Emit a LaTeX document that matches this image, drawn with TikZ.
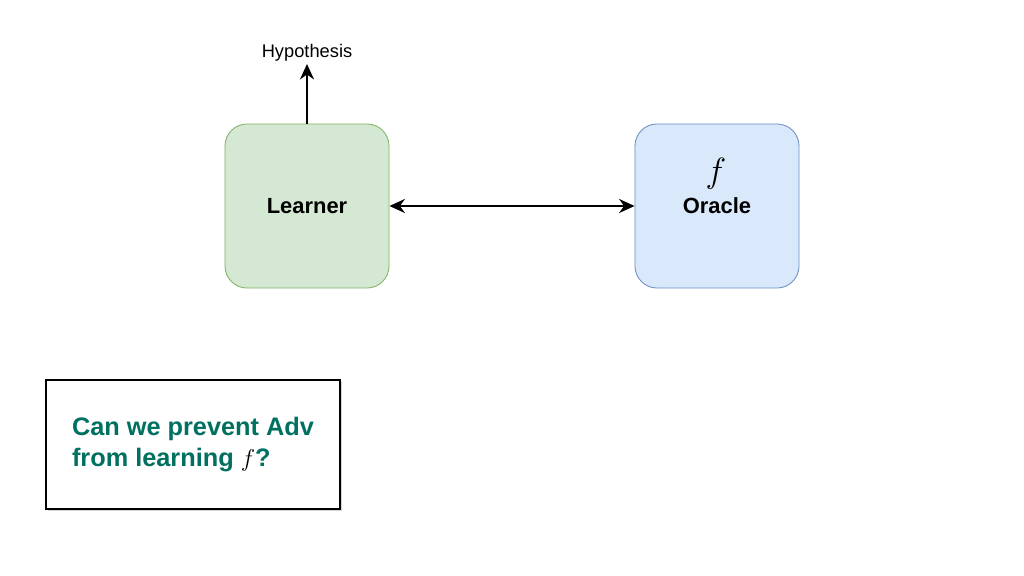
\documentclass[tikz,border=0pt]{standalone}
\usepackage{fontspec}
\setmainfont{Liberation Sans}
\usepackage{tikz}
\usetikzlibrary{arrows.meta,shadows}

\definecolor{learnerfill}{HTML}{D5E8D4}
\definecolor{learnerline}{HTML}{82B366}
\definecolor{oraclefill}{HTML}{DAE8FC}
\definecolor{oracleline}{HTML}{6C8EBF}
\definecolor{qteal}{RGB}{0,112,96}

\begin{document}
\begin{tikzpicture}[x=0.025cm,y=-0.025cm,
    agent/.style={rounded corners=0.55cm,minimum width=4.1cm,minimum height=4.1cm,
        line width=0.6pt,font=\fontsize{15.6}{18}\selectfont\bfseries,align=center},
    link/.style={line width=1.3pt,-{Stealth[length=11pt,width=10pt]}}]
    \useasboundingbox (0,0) rectangle (1024,576);
    \node[agent,fill=learnerfill,draw=learnerline] (learner) at (307,206) {Learner};
    \node[agent,fill=oraclefill,draw=oracleline] (oracle) at (717,206) {};
    \node[font=\fontsize{28}{28}\selectfont] (fsym) at (716,174) {$f$};
    \node[font=\fontsize{15.6}{18}\selectfont\bfseries] (oname) at (717,206) {Oracle};
    \node[font=\fontsize{13}{15}\selectfont] (hyp) at (307,53) {Hypothesis};
    \coordinate (hyptip) at (307,64);
    \draw[link] (learner.north) -- (hyptip);
    \draw[link,{Stealth[length=11pt,width=10pt]}-{Stealth[length=11pt,width=10pt]}] (learner) -- (oracle);
    \node[draw,line width=2pt,fill=white,drop shadow={opacity=0.35,shadow xshift=1.2pt,shadow yshift=-1.2pt},
        minimum width=7.35cm,minimum height=3.225cm,inner xsep=0.6cm,align=left,
        text=qteal,font=\fontsize{18}{22}\selectfont\bfseries] (question) at (193,444.5)
        {Can we prevent Adv\\from learning {\color{black}\fontsize{17}{17}\selectfont$f$}?};
\end{tikzpicture}
\end{document}
